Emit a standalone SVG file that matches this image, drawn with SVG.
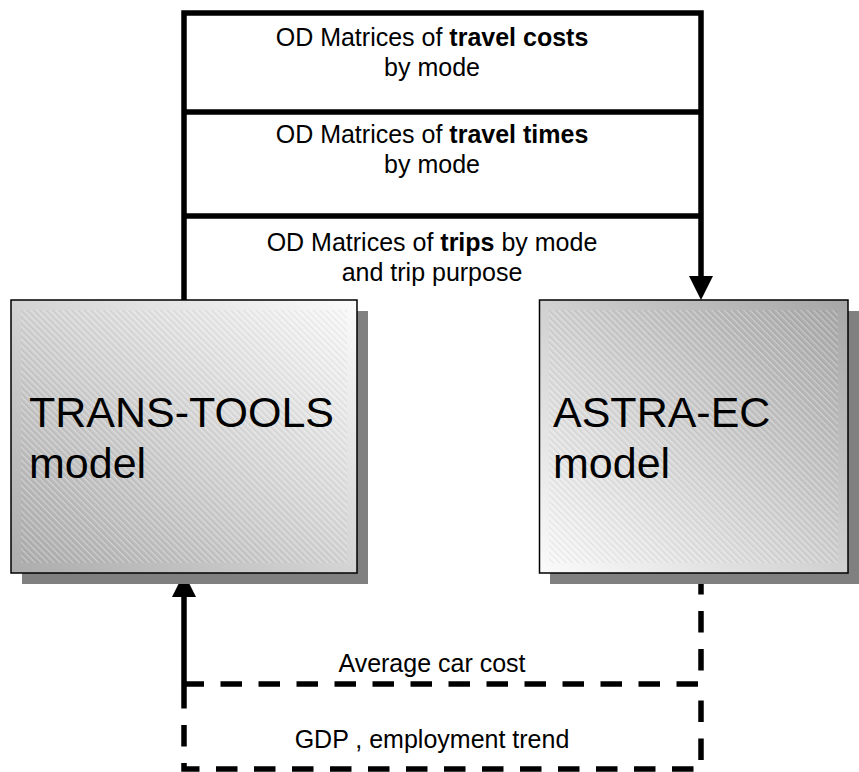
<svg xmlns="http://www.w3.org/2000/svg" width="859" height="772" viewBox="0 0 859 772">
<style>
.ln{fill:none;stroke:#000;stroke-width:5.5}
.ds{fill:none;stroke:#000;stroke-width:5.5;stroke-dasharray:21.5 16.5}
.sm{font-family:"Liberation Sans",Arial,sans-serif;font-size:25px;fill:#000;text-anchor:middle}
.bg{font-family:"Liberation Sans",Arial,sans-serif;font-size:43px;fill:#000}
.box{stroke:#000;stroke-width:1.5}
.sh{fill:#808080}
</style>
<defs>
<linearGradient id="g1" x1="0" y1="1" x2="1" y2="0">
<stop offset="0" stop-color="#acacac"/>
<stop offset="1" stop-color="#fbfbfb"/>
</linearGradient>
<linearGradient id="g2" x1="0" y1="1" x2="1" y2="0">
<stop offset="0" stop-color="#fbfbfb"/>
<stop offset="1" stop-color="#a6a6a6"/>
</linearGradient>
<pattern id="hatch" patternUnits="userSpaceOnUse" width="4.5" height="4.5" patternTransform="rotate(-45)">
<line x1="0" y1="0" x2="0" y2="4.5" stroke="#ffffff" stroke-opacity="0.5" stroke-width="1.2"/>
<line x1="2.25" y1="0" x2="2.25" y2="4.5" stroke="#000000" stroke-opacity="0.06" stroke-width="1"/>
</pattern>
</defs>

<g id="connectors">
<path class="ln" d="M184 300 V13 H701 V277"/>
<path class="ln" d="M184 112 H701 M184 216 H701"/>
<polygon points="689,276 713,276 701,300"/>
<path class="ln" d="M184 687 V596"/>
<polygon points="172,597 196,597 184,573"/>
<path class="ds" d="M701 573 V684 H186"/>
<path class="ds" d="M184 687 V769 H701 V686"/>
</g>

<g id="label-costs">
<text class="sm" x="432" y="46">OD Matrices of <tspan font-weight="bold">travel costs</tspan></text>
<text class="sm" x="432" y="76">by mode</text>
</g>
<g id="label-times">
<text class="sm" x="432" y="143">OD Matrices of <tspan font-weight="bold">travel times</tspan></text>
<text class="sm" x="432" y="173">by mode</text>
</g>
<g id="label-trips">
<text class="sm" x="432" y="251">OD Matrices of <tspan font-weight="bold">trips</tspan> by mode</text>
<text class="sm" x="432" y="281">and trip purpose</text>
</g>
<g id="label-car">
<text class="sm" x="432" y="672">Average car cost</text>
</g>
<g id="label-gdp">
<text class="sm" x="432" y="748">GDP , employment trend</text>
</g>

<g id="trans-tools">
<rect class="sh" x="22" y="311" width="346" height="273"/>
<rect class="box" x="11" y="300" width="346" height="273" fill="url(#g1)"/>
<rect x="21" y="310" width="326" height="253" fill="url(#hatch)"/>
<text class="bg" x="29" y="427">TRANS-TOOLS</text>
<text class="bg" x="29" y="478">model</text>
</g>

<g id="astra-ec">
<rect class="sh" x="550" y="311" width="309" height="273"/>
<rect class="box" x="539.5" y="300" width="308.5" height="273" fill="url(#g2)"/>
<rect x="549" y="310" width="289" height="253" fill="url(#hatch)"/>
<text class="bg" x="553" y="427">ASTRA-EC</text>
<text class="bg" x="553" y="478">model</text>
</g>
</svg>
